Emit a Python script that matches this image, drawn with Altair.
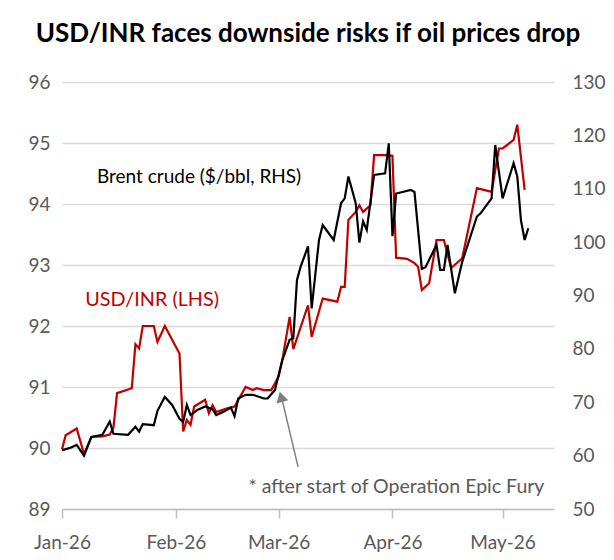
import altair as alt
import pandas as pd

# ---- data ----
inr_dates = [
    "2026-01-01", "2026-01-02", "2026-01-05", "2026-01-07", "2026-01-09", "2026-01-12",
    "2026-01-14", "2026-01-15", "2026-01-16", "2026-01-20", "2026-01-21", "2026-01-22",
    "2026-01-23", "2026-01-26", "2026-01-27", "2026-01-29", "2026-02-02", "2026-02-03",
    "2026-02-04", "2026-02-05", "2026-02-06", "2026-02-09", "2026-02-10", "2026-02-11",
    "2026-02-12", "2026-02-15", "2026-02-17", "2026-02-20", "2026-02-22", "2026-02-23",
    "2026-02-25", "2026-02-27", "2026-03-01", "2026-03-02", "2026-03-04", "2026-03-05",
    "2026-03-09", "2026-03-10", "2026-03-13", "2026-03-17", "2026-03-18", "2026-03-19",
    "2026-03-20", "2026-03-22", "2026-03-23", "2026-03-24", "2026-03-26", "2026-03-27",
    "2026-03-30", "2026-04-01", "2026-04-02", "2026-04-05", "2026-04-07", "2026-04-08",
    "2026-04-09", "2026-04-11", "2026-04-13", "2026-04-15", "2026-04-17", "2026-04-20",
    "2026-04-24", "2026-04-28", "2026-04-30", "2026-05-01", "2026-05-04", "2026-05-05",
    "2026-05-07",
]
inr_values = [
    89.98, 90.21, 90.32, 89.90, 90.18, 90.19,
    90.22, 90.33, 90.90, 90.98, 91.70, 91.63,
    92.00, 92.00, 91.74, 92.00, 91.55, 90.27,
    90.46, 90.38, 90.68, 90.79, 90.57, 90.70,
    90.59, 90.65, 90.68, 91.00, 90.95, 90.98,
    90.95, 90.95, 91.17, 91.44, 92.15, 91.62,
    92.34, 91.82, 92.45, 92.40, 92.64, 92.64,
    93.74, 93.87, 93.98, 93.87, 93.98, 94.80,
    94.80, 94.79, 93.12, 93.10, 93.03, 92.97,
    92.59, 92.70, 93.41, 93.41, 92.95, 93.11,
    94.26, 94.20, 94.91, 94.91, 95.05, 95.30,
    94.23,
]

brent_dates = [
    "2026-01-01", "2026-01-03", "2026-01-05", "2026-01-07", "2026-01-09", "2026-01-12",
    "2026-01-14", "2026-01-15", "2026-01-19", "2026-01-21", "2026-01-22", "2026-01-23",
    "2026-01-26", "2026-01-27", "2026-01-29", "2026-01-31", "2026-02-02", "2026-02-03",
    "2026-02-04", "2026-02-05", "2026-02-07", "2026-02-09", "2026-02-11", "2026-02-12",
    "2026-02-14", "2026-02-16", "2026-02-17", "2026-02-18", "2026-02-20", "2026-02-22",
    "2026-02-25", "2026-02-26", "2026-02-28", "2026-03-02", "2026-03-04", "2026-03-05",
    "2026-03-06", "2026-03-07", "2026-03-09", "2026-03-10", "2026-03-12", "2026-03-13",
    "2026-03-16", "2026-03-18", "2026-03-19", "2026-03-20", "2026-03-22", "2026-03-23",
    "2026-03-24", "2026-03-25", "2026-03-27", "2026-03-30", "2026-03-31", "2026-04-01",
    "2026-04-02", "2026-04-06", "2026-04-07", "2026-04-09", "2026-04-10", "2026-04-13",
    "2026-04-14", "2026-04-15", "2026-04-16", "2026-04-18", "2026-04-20", "2026-04-24",
    "2026-04-25", "2026-04-28", "2026-04-29", "2026-05-01", "2026-05-04", "2026-05-05",
    "2026-05-06", "2026-05-07", "2026-05-08",
]
brent_values = [
    61.0, 61.4, 62.0, 60.0, 63.5, 63.9,
    66.4, 64.1, 63.9, 65.4, 64.5, 65.9,
    65.7, 68.4, 71.0, 69.5, 66.9, 66.3,
    69.5, 67.6, 68.6, 69.2, 68.7, 67.6,
    68.2, 69.0, 67.4, 70.7, 71.4, 71.4,
    70.7, 70.7, 72.3, 77.9, 81.7, 82.0,
    92.9, 95.4, 99.2, 87.6, 100.4, 103.2,
    100.4, 107.3, 108.2, 112.3, 107.3, 99.9,
    103.9, 102.3, 112.6, 112.9, 118.5, 101.1,
    109.1, 109.8, 109.4, 95.0, 95.3, 99.5,
    94.8, 94.8, 99.5, 90.4, 96.3, 104.8,
    105.4, 108.2, 118.2, 108.2, 114.8, 112.3,
    104.1, 100.4, 102.6,
]

month_labels = [1, 2, 3, 4, 5]
lhs_ticks = [89, 90, 91, 92, 93, 94, 95, 96]
rhs_ticks = [50, 60, 70, 80, 90, 100, 110, 120, 130]

title_text = "USD/INR faces downside risks if oil prices drop"
brent_label = "Brent crude ($/bbl, RHS)"
inr_label = "USD/INR (LHS)"
note_label = "* after start of Operation Epic Fury"

# ---- styling ----
FONT = "Lato"
RED = "#c00000"
GREY_TXT = "#595959"
GRID = "#d9d9d9"

inr = pd.DataFrame({"date": pd.to_datetime(inr_dates), "value": inr_values})
brent = pd.DataFrame({"date": pd.to_datetime(brent_dates), "value": brent_values})

x_domain = [alt.DateTime(year=2026, month=1, date=1), alt.DateTime(year=2026, month=5, date=15)]
x_ticks = [alt.DateTime(year=2026, month=m, date=1) for m in month_labels]

x_enc = alt.X(
    "date:T",
    scale=alt.Scale(domain=x_domain),
    axis=alt.Axis(
        values=x_ticks, format="%b-%y", title=None, grid=False,
        domainColor="#bfbfbf", domainWidth=1.5, tickColor="#bfbfbf", tickWidth=1.5,
        tickSize=9, labelPadding=15, labelFontSize=19, labelColor=GREY_TXT,
        labelFont=FONT, labelFlush=False,
    ),
)
lhs_scale = alt.Scale(domain=[89, 96], nice=False, zero=False)
lhs_axis = alt.Axis(
    values=lhs_ticks, format="d", title=None, grid=True, gridColor=GRID, gridWidth=1.5,
    domain=False, ticks=False, labelPadding=12, labelFontSize=19,
    labelColor=GREY_TXT, labelFont=FONT,
)
rhs_scale = alt.Scale(domain=[50, 130], nice=False, zero=False)
rhs_axis = alt.Axis(
    values=rhs_ticks, format="d", title=None, grid=False, orient="right", domain=False,
    ticks=False, labelPadding=18, labelFontSize=19, labelColor=GREY_TXT,
    labelFont=FONT, labelAlign="left",
)

inr_line = alt.Chart(inr).mark_line(color=RED, strokeWidth=2.2).encode(
    x=x_enc, y=alt.Y("value:Q", scale=lhs_scale, axis=lhs_axis)
)

brent_line = alt.Chart(brent).mark_line(color="black", strokeWidth=2.2).encode(
    x=alt.X("date:T", scale=alt.Scale(domain=x_domain)),
    y=alt.Y("value:Q", scale=rhs_scale, axis=rhs_axis),
)

# annotation anchors (in data space)
labels = pd.DataFrame({
    "date": pd.to_datetime(["2026-01-10 12:00", "2026-01-07 08:00", "2026-02-20 19:00"]),
    "value": [94.44, 92.42, 89.36],
    "label": [brent_label, inr_label, note_label],
    "kind": ["brent", "inr", "note"],
    "size": [19, 19.8, 19.5],
})
label_text = alt.Chart(labels).mark_text(
    align="left", baseline="middle", font=FONT
).encode(
    x="date:T",
    y=alt.Y("value:Q", scale=lhs_scale),
    text="label:N",
    size=alt.Size("size:Q", scale=None, legend=None),
    color=alt.Color("kind:N", scale=alt.Scale(domain=["brent", "inr", "note"],
                                                range=["black", RED, GREY_TXT]), legend=None),
)

arrow_df = pd.DataFrame({
    "date": pd.to_datetime(["2026-03-06 07:00"]), "value": [89.69],
    "date2": pd.to_datetime(["2026-03-01 23:00"]), "value2": [90.79],
})
arrow_line = alt.Chart(arrow_df).mark_rule(color="#7f7f7f", strokeWidth=1.5).encode(
    x="date:T", x2="date2:T", y=alt.Y("value:Q", scale=lhs_scale), y2="value2:Q"
)
head_df = pd.DataFrame({"date": pd.to_datetime(["2026-03-01 16:00"]), "value": [90.84]})
arrow_head = alt.Chart(head_df).mark_point(
    shape="triangle-up", size=150, angle=345, filled=True, color="#7f7f7f", opacity=1
).encode(x="date:T", y=alt.Y("value:Q", scale=lhs_scale))

left = alt.layer(inr_line, label_text, arrow_line, arrow_head)

chart = alt.layer(left, brent_line).resolve_scale(y="independent").properties(
    width=492, height=427,
    title=alt.TitleParams(title_text, font=FONT, fontSize=26, fontWeight="bold",
                          color="black", anchor="middle", baseline="bottom", offset=0),
    autosize=alt.AutoSizeParams(type="none"),
    padding={"left": 54, "top": 74, "right": 52, "bottom": 43},
).configure_view(stroke=None)

chart.save("out.html", embed_options={"renderer": "svg", "actions": False})
